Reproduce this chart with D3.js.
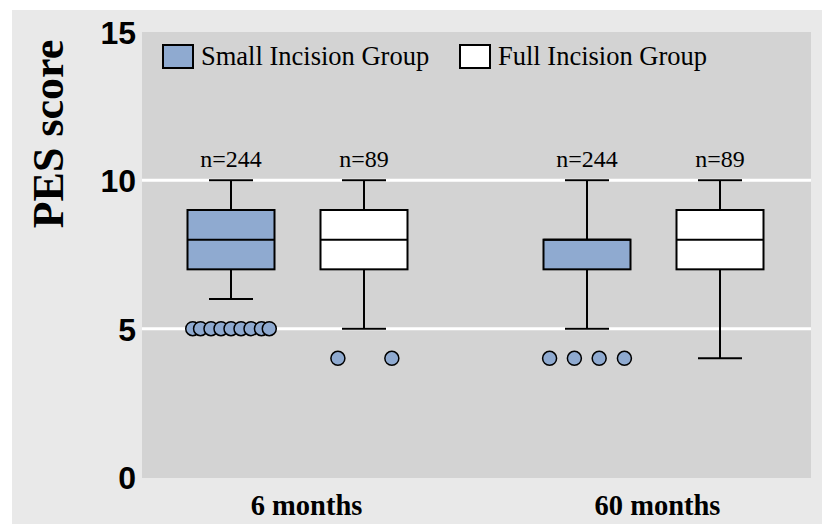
<!DOCTYPE html>
<html><head><meta charset="utf-8">
<script src="https://cdn.jsdelivr.net/npm/d3@7"></script>
<style>body{margin:0;background:#fff;} svg{display:block;}</style>
</head><body>
<svg id="c" width="822" height="525"></svg>
<script>
const groups = ["6 months", "60 months"];
const seriesNames = ["Small Incision Group", "Full Incision Group"];
const seriesColors = ["#8faad0", "#ffffff"];
const nLabels = [["n=244", "n=89"], ["n=244", "n=89"]];
// [low whisker, q1, median, q3, high whisker]
const small6 = [6, 7, 8, 9, 10];
const full6 = [5, 7, 8, 9, 10];
const small60 = [5, 7, 8, 8, 10];
const full60 = [4, 7, 8, 9, 10];
// outliers: value and horizontal jitter (fraction of box width)
const small6Out = [[5,-0.44],[5,-0.35],[5,-0.23],[5,-0.115],[5,0],[5,0.115],[5,0.23],[5,0.35],[5,0.44]];
const full6Out = [[4,-0.3],[4,0.32]];
const small60Out = [[4,-0.43],[4,-0.145],[4,0.14],[4,0.43]];
const full60Out = [];
const yTicks = [0, 5, 10, 15];
const gridValues = [5, 10];

const boxes = [
  {g:0, s:0, v:small6, out:small6Out, n:nLabels[0][0]},
  {g:0, s:1, v:full6, out:full6Out, n:nLabels[0][1]},
  {g:1, s:0, v:small60, out:small60Out, n:nLabels[1][0]},
  {g:1, s:1, v:full60, out:full60Out, n:nLabels[1][1]}
];

const SERIF = "'Liberation Serif', serif";
const SANS = "'Liberation Sans', sans-serif";
const svg = d3.select("#c");
const plot = {l:142, r:811, t:32, b:478};
svg.append("rect").attr("x",12).attr("y",10).attr("width",810).attr("height",514).attr("fill","#e9e9e9");
svg.append("rect").attr("x",plot.l).attr("y",plot.t).attr("width",plot.r-plot.l).attr("height",plot.b-plot.t).attr("fill","#d3d3d3");

const y = d3.scaleLinear().domain([0,15]).range([477,32]);
const x = d3.scalePoint().domain(groups).range([297.5,653.5]);
const sub = d3.scalePoint().domain([0,1]).range([-66.5,66.5]);
const boxW = 87, capW = 44;

svg.selectAll("line.grid").data(gridValues).join("line")
  .attr("x1",plot.l).attr("x2",plot.r).attr("y1",d=>y(d)).attr("y2",d=>y(d))
  .attr("stroke","#fff").attr("stroke-width",3);

// y axis
const yAxis = d3.axisLeft(y).tickValues(yTicks).tickSize(0).tickPadding(6);
const ya = svg.append("g").attr("transform",`translate(${plot.l},0)`).call(yAxis);
ya.select(".domain").remove();
ya.selectAll("text").style("font-family",SANS).style("font-weight","bold").style("font-size","32px").attr("fill","#000").attr("dy","0.36em");

svg.append("text").attr("transform","translate(63,134) rotate(-90)").attr("text-anchor","middle")
  .style("font-family",SERIF).style("font-weight","bold").style("font-size","44px").text("PES score");

// x labels
svg.selectAll("text.xl").data(groups).join("text")
  .attr("x",(d,i)=>x(d)+(i===0?9:4)).attr("y",515).attr("text-anchor","middle")
  .style("font-family",SERIF).style("font-weight","bold").style("font-size","28.5px")
  .text(d=>d);

const bg = svg.selectAll("g.box").data(boxes).join("g")
  .attr("transform",d=>`translate(${x(groups[d.g])+sub(d.s)},0)`);
// whiskers
bg.append("line").attr("x1",0).attr("x2",0).attr("y1",d=>y(d.v[0])).attr("y2",d=>y(d.v[1])).attr("stroke","#000").attr("stroke-width",2);
bg.append("line").attr("x1",0).attr("x2",0).attr("y1",d=>y(d.v[3])).attr("y2",d=>y(d.v[4])).attr("stroke","#000").attr("stroke-width",2);
bg.append("line").attr("x1",-capW/2).attr("x2",capW/2).attr("y1",d=>y(d.v[0])).attr("y2",d=>y(d.v[0])).attr("stroke","#000").attr("stroke-width",2);
bg.append("line").attr("x1",-capW/2).attr("x2",capW/2).attr("y1",d=>y(d.v[4])).attr("y2",d=>y(d.v[4])).attr("stroke","#000").attr("stroke-width",2);
bg.append("rect").attr("x",-boxW/2).attr("width",boxW).attr("y",d=>y(d.v[3])).attr("height",d=>y(d.v[1])-y(d.v[3]))
  .attr("fill",d=>seriesColors[d.s]).attr("stroke","#000").attr("stroke-width",2);
bg.append("line").attr("x1",-boxW/2).attr("x2",boxW/2).attr("y1",d=>y(d.v[2])).attr("y2",d=>y(d.v[2])).attr("stroke","#000").attr("stroke-width",2);
bg.selectAll("circle").data(d=>d.out).join("circle")
  .attr("cx",d=>d[1]*boxW).attr("cy",d=>y(d[0])).attr("r",7)
  .attr("fill","#8faad0").attr("stroke","#000").attr("stroke-width",1.5);
bg.append("text").attr("x",0).attr("y",y(10)-13).attr("text-anchor","middle")
  .style("font-family",SERIF).style("font-size","24px").text(d=>d.n);

// legend
const lx = [163, 460];
const lg = svg.selectAll("g.leg").data(seriesNames).join("g").attr("transform",(d,i)=>`translate(${lx[i]},45)`);
lg.append("rect").attr("width",30).attr("height",23).attr("fill",(d,i)=>seriesColors[i]).attr("stroke","#000").attr("stroke-width",2);
lg.append("text").attr("x",38).attr("y",20).style("font-family",SERIF).style("font-size","26.5px").text(d=>d);
</script>
</body></html>
